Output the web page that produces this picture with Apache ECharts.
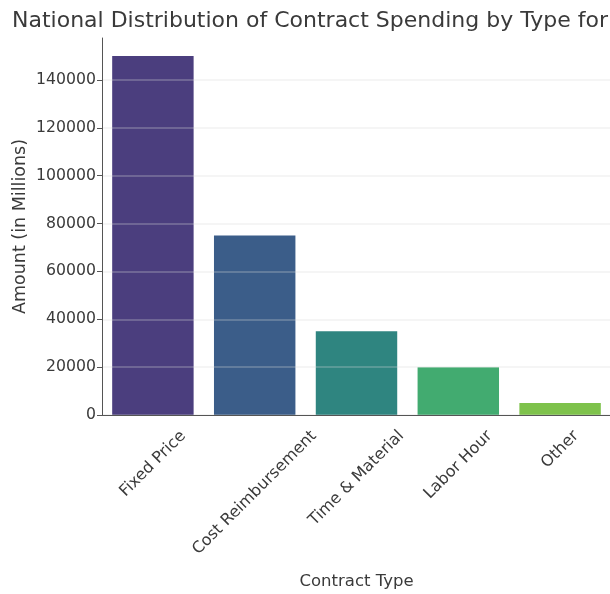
<!DOCTYPE html>
<html lang="en">
<head>
	<meta charset="utf-8">
	<title>Contract Spending by Type</title>
	<script src="https://cdn.jsdelivr.net/npm/echarts@6/dist/echarts.min.js"></script>
	<style>
		html, body { margin: 0; padding: 0; background: #fff; }
		#chart { width: 610px; height: 594px; }
	</style>
</head>
<body>
<div id="chart"></div>
<script>
var categories = ['Fixed Price', 'Cost Reimbursement', 'Time & Material', 'Labor Hour', 'Other'];
var amounts = [150000, 75000, 35000, 20000, 5000];
var barColors = ['#4b3e7e', '#3b5d89', '#2f8580', '#42ab70', '#7ec24b'];
var yTicks = [0, 20000, 40000, 60000, 80000, 100000, 120000, 140000];

var font = 'DejaVu Sans';
var textColor = '#3a3a3a';
var xLabelSize = 16;

// matplotlib centres each rotated tick label's box under its tick,
// so the label is drawn by a custom series at the axis coordinate
var ctx = document.createElement('canvas').getContext('2d');
ctx.font = xLabelSize + 'px "' + font + '"';
function labelDrop(text) {
	var w = ctx.measureText(text).width;
	var h = xLabelSize * 1.15;
	return 12 + (w + h) * Math.SQRT1_2 / 2;
}

echarts.init(document.getElementById('chart')).setOption({
	animation: false,
	textStyle: { fontFamily: font },
	title: {
		text: 'National Distribution of Contract Spending by Type for',
		left: 7,
		top: 5,
		textStyle: { fontFamily: font, fontSize: 22, fontWeight: 'normal', color: textColor }
	},
	grid: { left: 102, right: -1, top: 38, bottom: 179, containLabel: false, outerBoundsMode: 'none' },
	xAxis: {
		type: 'category',
		data: categories,
		z: 3,
		name: 'Contract Type',
		nameLocation: 'middle',
		nameGap: 158,
		nameMoveOverlap: false,
		nameTextStyle: { fontFamily: font, fontSize: 16.5, color: textColor },
		axisLine: { lineStyle: { color: '#555', width: 1 } },
		axisTick: { alignWithLabel: true, inside: true, length: 4, lineStyle: { color: '#444' } },
		axisLabel: { show: false }
	},
	yAxis: {
		type: 'value',
		min: 0,
		max: 157500,
		interval: 20000,
		z: 3,
		name: 'Amount (in Millions)',
		nameLocation: 'middle',
		nameGap: 73,
		nameMoveOverlap: false,
		nameTextStyle: { fontFamily: font, fontSize: 17.5, color: textColor },
		axisLine: { show: true, lineStyle: { color: '#555', width: 1 } },
		axisTick: { show: true, length: 5, lineStyle: { color: '#555' } },
		axisLabel: {
			fontSize: 15.7, color: textColor, margin: 6, showMaxLabel: false,
			formatter: function (v) { return yTicks.indexOf(v) >= 0 ? String(v) : ''; }
		},
		splitLine: { show: true, showMaxLine: false, lineStyle: { color: 'rgba(215,215,215,0.35)', width: 1.5 } }
	},
	series: [{
		type: 'bar',
		data: amounts.map(function (v, i) {
			return { value: v, itemStyle: { color: barColors[i] } };
		}),
		barCategoryGap: '20%'
	}, {
		type: 'custom',
		silent: true,
		clip: false,
		z: 5,
		data: categories.map(function (c, i) { return [i, 0]; }),
		renderItem: function (params, api) {
			var text = categories[api.value(0)];
			var pt = api.coord([api.value(0), 0]);
			return {
				type: 'text',
				x: pt[0],
				y: pt[1] + labelDrop(text),
				rotation: Math.PI / 4,
				style: {
					text: text, x: 0, y: 0,
					align: 'center', verticalAlign: 'middle',
					font: xLabelSize + 'px "' + font + '"',
					fill: textColor
				}
			};
		}
	}]
});
</script>
</body>
</html>
